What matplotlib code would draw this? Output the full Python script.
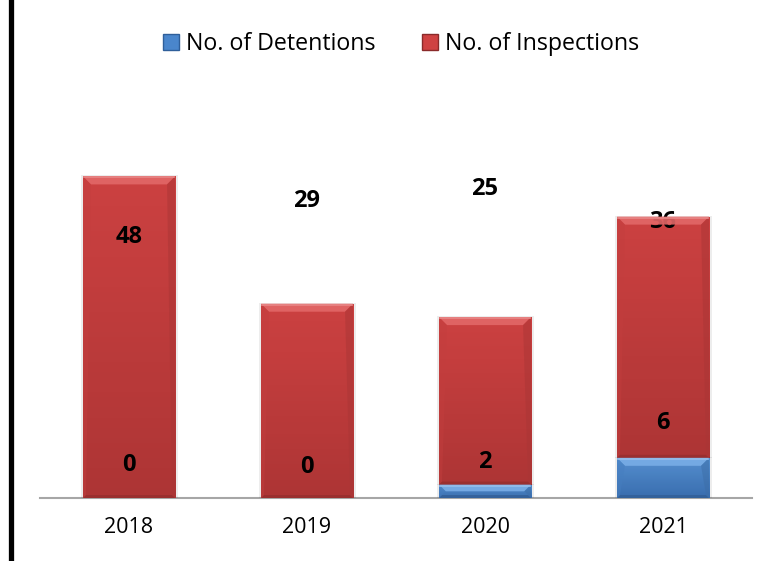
import matplotlib
matplotlib.use("Agg")
import matplotlib.pyplot as plt
import numpy as np
from matplotlib.patches import Polygon, Patch
from matplotlib.colors import LinearSegmentedColormap
from matplotlib.lines import Line2D

# Data
years = ["2018", "2019", "2020", "2021"]
detentions = [0, 0, 2, 6]
inspections = [48, 29, 25, 36]

# Label heights (data units) used for the value annotations
insp_label_y = [39.0, 44.3, 46.1, 41.2]
det_label_y = [4.9, 4.6, 5.4, 11.2]

RED = "#CF4242"
BLUE = "#4A86CC"

plt.rcParams['font.family'] = ['Open Sans', 'DejaVu Sans']

W, H, DPI = 770, 561, 100
fig = plt.figure(figsize=(W / DPI, H / DPI), dpi=DPI)
ax = fig.add_axes([40 / W, 63 / H, 712 / W, 402 / H])

x = np.arange(len(years))
bw = 0.517
det_bars = ax.bar(x, detentions, bw, color=BLUE, zorder=2)
insp_bars = ax.bar(x, inspections, bw, bottom=detentions, color=RED, zorder=2)

ax.set_xlim(-0.5, len(years) - 0.5)
ax.set_ylim(0, 60)
ax.set_yticks([])
ax.set_xticks(x)
ax.set_xticklabels(years, fontsize=15.5)
ax.tick_params(axis='x', length=0, pad=14)
for s in ("top", "right", "left"):
    ax.spines[s].set_visible(False)
ax.spines["bottom"].set_color("#A6A6A6")
ax.spines["bottom"].set_linewidth(1.5)
ax.spines["bottom"].set_zorder(1)

fig.canvas.draw()

def shade(c, f):
    c = np.array(matplotlib.colors.to_rgb(c))
    if f >= 0:
        return tuple(c + (1 - c) * f)
    return tuple(c * (1 + f))

def bevel(bar, base, top_col, bot_col):
    h = bar.get_height()
    if h <= 0:
        return
    # vertical gradient fill
    bb = bar.get_bbox()
    cmap = LinearSegmentedColormap.from_list("g", [bot_col, top_col])
    grad = np.linspace(0, 1, 64).reshape(-1, 1)
    im = ax.imshow(grad, cmap=cmap, aspect="auto", origin="lower",
                   extent=[bb.x0, bb.x1, bb.y0, bb.y1], zorder=2.5)
    im.set_clip_path(bar)
    # bevel edges in pixel space
    (x0, y0), (x1, y1) = ax.transData.transform([(bb.x0, bb.y0), (bb.x1, bb.y1)])
    b = min(8.0, (y1 - y0) / 2.0)
    bb_ = min(3.0, (y1 - y0) / 3.0)
    faces = [
        ([(x0, y1), (x1, y1), (x1 - b, y1 - b), (x0 + b, y1 - b)], shade(top_col, 0.18), 0.9),
        ([(x0, y0), (x1, y0), (x1 - bb_, y0 + bb_), (x0 + bb_, y0 + bb_)], shade(bot_col, -0.2), 0.8),
        ([(x0, y0), (x0, y1), (x0 + b, y1 - b), (x0 + bb_, y0 + bb_)], shade(base, -0.06), 0.45),
        ([(x1, y0), (x1, y1), (x1 - b, y1 - b), (x1 - bb_, y0 + bb_)], shade(base, -0.18), 0.5),
    ]
    for pts, col, a in faces:
        p = Polygon(pts, closed=True, facecolor=col, edgecolor="none",
                    transform=None, zorder=3, alpha=a)
        fig.add_artist(p)
    # bright rim along the top edge
    fig.add_artist(Line2D([x0 + 1, x1 - 1], [y1 - 1, y1 - 1], color=shade(top_col, 0.35),
                          lw=1.2, transform=None, zorder=3.2))
    # soft shadow
    sh = Polygon([(x0 - 2, y0), (x1 + 2.5, y0), (x1 + 2.5, y1 + 1), (x0 - 2, y1 + 1)],
                 closed=True, facecolor="#000000", alpha=0.07, edgecolor="none",
                 transform=None, zorder=1.5)
    fig.add_artist(sh)

for bar in insp_bars:
    bevel(bar, RED, "#DC4646", "#BB3A3A")
for bar in det_bars:
    bevel(bar, BLUE, "#5C9BE0", "#3E76BC")

# Value labels
for xi, v, ly in zip(x, inspections, insp_label_y):
    ax.text(xi, ly, str(v), ha="center", va="center", fontsize=17,
            fontweight="bold", color="black", zorder=5)
for xi, v, ly in zip(x, detentions, det_label_y):
    ax.text(xi, ly, str(v), ha="center", va="center", fontsize=17,
            fontweight="bold", color="black", zorder=5)

# Legend
handles = [Patch(facecolor=BLUE, edgecolor="#2F5F9A", label="No. of Detentions"),
           Patch(facecolor=RED, edgecolor="#8A2A2A", label="No. of Inspections")]
fig.legend(handles=handles, loc="center", bbox_to_anchor=(401 / W, 1 - 44 / H),
           ncol=2, frameon=False, fontsize=16.7, handlelength=0.7,
           handleheight=0.7, handletextpad=0.3, columnspacing=2.0)

# Left border line
fig.add_artist(Line2D([10.5 / W, 10.5 / W], [0, 1], color="black", lw=3.8,
                      transform=fig.transFigure))

fig.savefig("out.png", dpi=DPI)
